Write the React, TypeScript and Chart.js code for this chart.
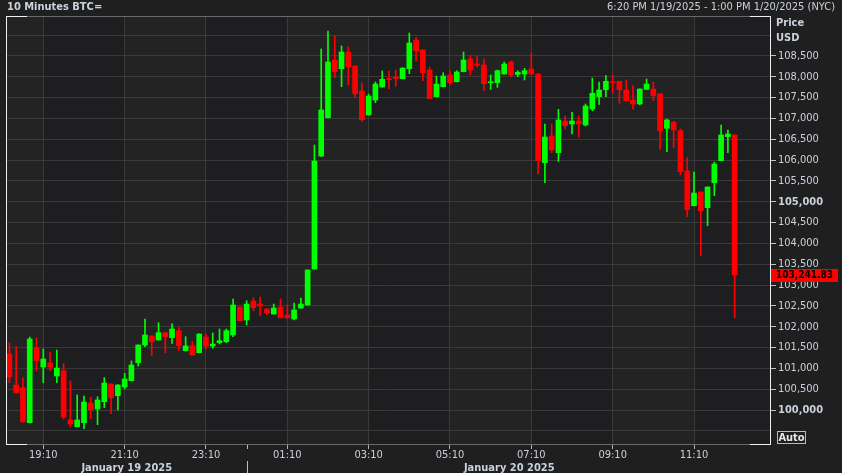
import React, { useEffect, useRef } from "react";
import { Chart, registerables } from "chart.js";

Chart.register(...registerables);

// ---- data (10-minute BTC candles, 18:20 1/19/2025 onwards) ----
const opens = [
  101345, 100600, 100535, 99695, 101495, 101032, 101128, 100816, 100943, 99760,
  99600, 99695, 100168, 100024, 100200, 100624, 100343, 100552, 100703, 101136,
  101561, 101777, 101681, 101856, 101736, 101905, 101424, 101544, 101376, 101753,
  101537, 101616, 101640, 101801, 102473, 102161, 102617, 102545, 102425, 102305,
  102473, 102281, 102185, 102449, 102521, 103385, 106098, 107018, 108404, 108195,
  108596, 108259, 107659, 107083, 107443, 107755, 107955, 107995, 107955, 108195,
  108884, 108644, 108163, 107522, 107762, 108043, 107882, 108123, 108428, 108308,
  108284, 107858, 107858, 108067, 108356, 108059, 108067, 108187, 108067, 105938,
  106579, 106178, 106939, 106867, 106939, 106843, 107227, 107522, 107690, 107882,
  107891, 107683, 107443, 107347, 107699, 107707, 107594, 106763, 106907, 106706,
  105738, 104905, 105234, 104857, 105457, 105986, 106563, 106603,
];
const highs = [
  101615, 101520, 100775, 101752, 101735, 101465, 101393, 101441, 101112, 100696,
  100360, 100336, 100312, 100320, 100776, 100630, 100610, 100880, 101177, 101565,
  102185, 101780, 102096, 101860, 102072, 101977, 101760, 101649, 101830, 101817,
  101849, 101945, 101945, 102665, 102478, 102624, 102697, 102713, 102430, 102545,
  102665, 102521, 102569, 102689, 103365, 106362, 108668, 109100, 108988, 108740,
  108724, 108265, 107851, 107587, 107875, 108139, 108139, 108163, 108215, 109052,
  108948, 108650, 108235, 108019, 108099, 108147, 108147, 108596, 108500, 108484,
  108428, 108043, 108163, 108356, 108380, 108147, 108203, 108572, 108072, 106867,
  106867, 107220, 107059, 107148, 107059, 107347, 107971, 107875, 108027, 108043,
  107895, 107923, 107787, 107710, 107947, 107875, 107598, 106987, 106931, 106747,
  106058, 105714, 105238, 105358, 105954, 106843, 106723, 106608,
];
const lows = [
  100655, 100400, 99700, 99690, 100943, 100655, 100943, 100655, 99784, 99592,
  99590, 99551, 99791, 99647, 100055, 99911, 100000, 100504, 100700, 101056,
  101520, 101304, 101675, 101376, 101601, 101424, 101420, 101315, 101370, 101457,
  101481, 101585, 101616, 101761, 102140, 102041, 102382, 102272, 102288, 102300,
  102210, 102200, 102161, 102445, 102515, 103380, 106082, 107010, 107979, 107762,
  107810, 107507, 106922, 107078, 107378, 107750, 107715, 107779, 107950, 108075,
  108387, 107907, 107470, 107518, 107758, 107810, 107878, 108118, 108043, 108235,
  107666, 107699, 107747, 108062, 107995, 108003, 107923, 108062, 105666, 105457,
  106178, 105968, 106747, 106627, 106547, 106819, 107187, 107340, 107522, 107603,
  107363, 107410, 107227, 107323, 107695, 107426, 106259, 106202, 106298, 105642,
  104641, 104900, 103705, 104425, 105146, 105980, 106178, 102216,
];
const closes = [
  100792, 100415, 99719, 101705, 101182, 101224, 101032, 101008, 99832, 99664,
  99760, 100192, 100007, 100240, 100648, 100295, 100600, 100744, 101080, 101561,
  101801, 101640, 101856, 101760, 101945, 101544, 101537, 101320, 101825, 101537,
  101585, 101664, 101905, 102521, 102144, 102545, 102456, 102497, 102329, 102449,
  102216, 102216, 102401, 102545, 103361, 105978, 107203, 108356, 108123, 108596,
  108243, 107594, 106970, 107539, 107827, 107940, 107931, 107955, 108211, 108812,
  108627, 108099, 107474, 107827, 108019, 107858, 108115, 108404, 108163, 108284,
  107835, 107882, 108147, 108308, 108043, 108107, 108147, 108067, 105986, 106555,
  106242, 106963, 106827, 106939, 106867, 107299, 107603, 107683, 107891, 107858,
  107690, 107426, 107347, 107707, 107827, 107546, 106706, 106963, 106723, 105722,
  104809, 105210, 104785, 105354, 105906, 106603, 106627, 103241.83,
];

const xTickIdx = [5, 17, 29, 41, 53, 65, 77, 89, 101];
const xTickLabels = ["19:10", "21:10", "23:10", "01:10", "03:10", "05:10", "07:10", "09:10", "11:10"];
const dayLabels = ["January 19 2025", "January 20 2025"];
const dayBreakIdx = 35;
const yTickValues = [
  99500, 100000, 100500, 101000, 101500, 102000, 102500, 103000, 103500, 104000,
  104500, 105000, 105500, 106000, 106500, 107000, 107500, 108000, 108500, 109000,
];
const yLabelMin = 100000;
const yLabelMax = 108500;
const lastPrice = 103241.83;
const titleText = "10 Minutes BTC=";
const rangeText = "6:20 PM 1/19/2025 - 1:00 PM 1/20/2025 (NYC)";

const FONT = '"DejaVu Sans Condensed", "DejaVu Sans", sans-serif';
const TXT = "#c9d1dc";
const UP = "#00ff00";
const DOWN = "#ff0000";

const decorPlugin = {
  id: "decor",
  beforeDraw(chart: any) {
    const { ctx, chartArea: a, scales } = chart;
    const x = scales.x;
    ctx.save();
    const edges = [a.left, ...xTickIdx.map((v) => x.getPixelForValue(v)), a.right];
    for (let i = 0; i < edges.length - 1; i++) {
      ctx.fillStyle = i % 2 === 0 ? "#232323" : "#1e1e20";
      ctx.fillRect(edges[i], a.top, edges[i + 1] - edges[i], a.bottom - a.top);
    }
    ctx.restore();
  },
  afterDraw(chart: any) {
    const { ctx, chartArea: a, scales } = chart;
    const x = scales.x;
    const y = scales.y;
    const w = a.right - a.left;
    const h = a.bottom - a.top;
    ctx.save();
    // frame
    ctx.fillStyle = "#6a6a6a";
    ctx.fillRect(a.left, a.top, w, 1);
    ctx.fillRect(a.left, a.bottom - 1, w, 1);
    ctx.fillStyle = "#f0f0f0";
    ctx.fillRect(a.left, a.top, 1, h);
    ctx.fillRect(a.right - 1, a.top, 1, h);
    ctx.fillRect(a.left, a.top, 21, 1);
    ctx.fillRect(a.right - 21, a.top, 21, 1);
    ctx.fillRect(a.left, a.bottom - 1, 21, 1);
    ctx.fillRect(a.right - 21, a.bottom - 1, 21, 1);

    // day separator
    const sx = Math.round(x.getPixelForValue(dayBreakIdx)) + 0.5;
    ctx.strokeStyle = "#c0c0c0";
    ctx.lineWidth = 1;
    ctx.beginPath();
    ctx.moveTo(sx, a.bottom);
    ctx.lineTo(sx, a.bottom + 4);
    ctx.moveTo(sx, 461);
    ctx.lineTo(sx, 473);
    ctx.stroke();

    // day labels
    ctx.fillStyle = TXT;
    ctx.font = `bold 11px ${FONT}`;
    ctx.textAlign = "center";
    ctx.textBaseline = "middle";
    ctx.fillText(dayLabels[0], (a.left + sx) / 2, 468);
    ctx.fillText(dayLabels[1], (sx + a.right) / 2, 468);

    // header
    ctx.textAlign = "left";
    ctx.font = `bold 11px ${FONT}`;
    ctx.fillText(titleText, 7, 7);
    ctx.textAlign = "right";
    ctx.font = `11px ${FONT}`;
    ctx.fillText(rangeText, 835, 7);

    // axis heading
    ctx.textAlign = "left";
    ctx.font = `bold 11px ${FONT}`;
    ctx.fillText("Price", 776, 23);
    ctx.fillText("USD", 776, 38);

    // Auto box
    ctx.strokeStyle = "#bbbbbb";
    ctx.strokeRect(777.5, 431.5, 28, 12);
    ctx.textAlign = "center";
    ctx.fillStyle = "#e8e8e8";
    ctx.fillText("Auto", 791.5, 438);

    // last price label
    const py = Math.round(y.getPixelForValue(lastPrice));
    ctx.fillStyle = DOWN;
    ctx.fillRect(a.right, py - 6, 67, 13);
    ctx.fillStyle = "#000000";
    ctx.textAlign = "center";
    ctx.font = `bold 10px ${FONT}`;
    ctx.fillText(
      lastPrice.toLocaleString("en-US", { minimumFractionDigits: 2 }),
      a.right + 33.5,
      py + 0.5
    );
    ctx.restore();
  },
};

export default function App() {
  const ref = useRef<HTMLCanvasElement | null>(null);

  useEffect(() => {
    if (!ref.current) return;
    const colors = opens.map((o, i) => (closes[i] >= o ? UP : DOWN));
    const wickData = opens.map((_, i) => ({ x: i, y: [lows[i], highs[i]] }));
    const bodyData = opens.map((o, i) => ({ x: i, y: [o, closes[i]] }));

    const chart = new Chart(ref.current, {
      type: "bar",
      data: {
        datasets: [
          {
            label: "wick",
            data: wickData as any,
            backgroundColor: colors,
            borderWidth: 0,
            barThickness: 1,
            grouped: false,
            order: 1,
          } as any,
          {
            label: "body",
            data: bodyData as any,
            backgroundColor: colors,
            borderWidth: 0,
            barThickness: 5,
            minBarLength: 1,
            grouped: false,
            order: 0,
          } as any,
        ],
      },
      options: {
        animation: false,
        responsive: true,
        maintainAspectRatio: false,
        events: [],
        layout: { padding: { left: 6, top: 16, right: 0, bottom: 0 } },
        plugins: { legend: { display: false }, tooltip: { enabled: false } },
        scales: {
          x: {
            type: "linear",
            min: -0.503,
            max: 112.36,
            offset: false,
            border: { display: false },
            grid: {
              offset: false,
              color: "#3a3a3a",
              tickColor: "#b0b0b0",
              tickLength: 4,
              drawOnChartArea: true,
            },
            ticks: {
              autoSkip: false,
              maxRotation: 0,
              padding: 0,
              color: TXT,
              font: { family: FONT, size: 11 },
              callback: (_v: any, i: number) => xTickLabels[i],
            },
            afterBuildTicks: (s: any) => {
              s.ticks = xTickIdx.map((v) => ({ value: v }));
            },
            afterFit: (s: any) => {
              s.height = 28;
              s.paddingLeft = 0;
              s.paddingRight = 0;
            },
          } as any,
          y: {
            type: "linear",
            position: "right",
            min: 99160,
            max: 109460,
            border: { display: false },
            grid: {
              color: "#3a3a3a",
              tickLength: 5,
              tickColor: (c: any) =>
                c.tick && c.tick.value >= yLabelMin && c.tick.value <= yLabelMax ? "#c0c0c0" : "rgba(0,0,0,0)",
            },
            ticks: {
              padding: 2,
              color: TXT,
              font: (c: any) => ({
                family: FONT,
                size: 11,
                weight: c.tick && c.tick.value % 5000 === 0 ? "bold" : "normal",
              }),
              callback: (v: any) =>
                v >= yLabelMin && v <= yLabelMax ? Number(v).toLocaleString("en-US") : "",
            },
            afterBuildTicks: (s: any) => {
              s.ticks = yTickValues.map((v) => ({ value: v }));
            },
            afterFit: (s: any) => {
              s.width = 71;
              s.paddingTop = 0;
              s.paddingBottom = 0;
            },
          } as any,
        },
      },
      plugins: [decorPlugin],
    });
    return () => chart.destroy();
  }, []);

  return (
    <div
      style={{
        position: "fixed",
        left: 0,
        top: 0,
        width: 842,
        height: 473,
        background: "#1f1f1f",
      }}
    >
      <canvas ref={ref} />
    </div>
  );
}
